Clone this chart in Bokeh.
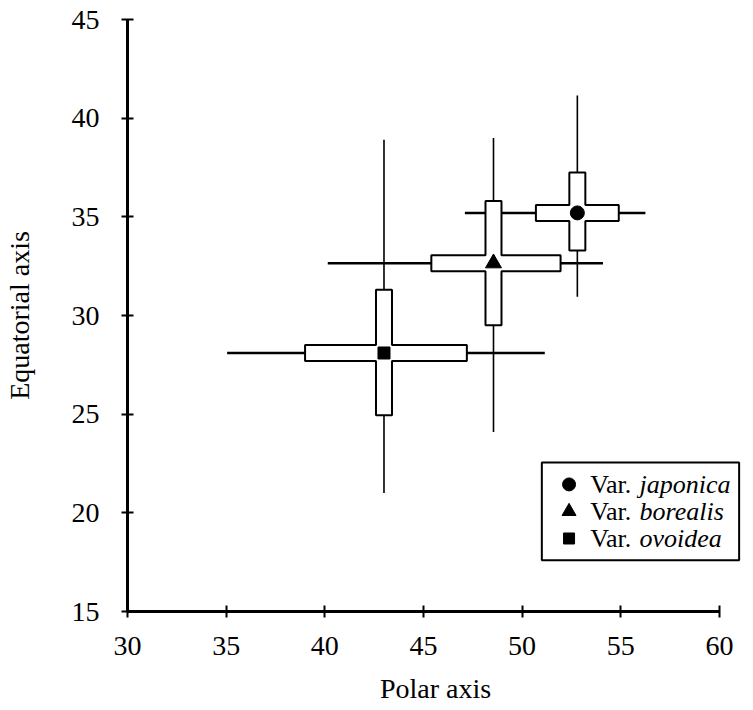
from bokeh.plotting import figure
from bokeh.models import ColumnDataSource, Range1d, FixedTicker
from bokeh.core.properties import value
from bokeh.embed import file_html
from bokeh.resources import INLINE

# ---- data ----
varieties = ["japonica", "borealis", "ovoidea"]
markers = ["circle", "triangle", "square"]
marker_sizes = [14, 16, 12]

polar_mean = [52.8, 48.55, 43.0]
polar_box_lo = [50.7, 45.4, 39.0]
polar_box_hi = [54.9, 51.95, 47.2]
polar_min = [47.1, 40.15, 35.05]
polar_max = [56.25, 54.1, 51.15]

equ_mean = [35.2, 32.65, 28.1]
equ_box_lo = [33.3, 29.5, 24.95]
equ_box_hi = [37.25, 35.8, 31.3]
equ_min = [30.95, 24.1, 21.0]
equ_max = [41.15, 39.0, 38.9]

x_ticks = [30, 35, 40, 45, 50, 55, 60]
y_ticks = [15, 20, 25, 30, 35, 40, 45]

# ---- styling constants ----
PX = 19.73            # pixels per data unit on both axes
HALF = 8.0 / PX       # half thickness of the boxes (8 px)
FRAME_W = 616
FRAME_H = 592
SERIF = "Liberation Serif"

p = figure(frame_width=FRAME_W, frame_height=FRAME_H,
           x_range=Range1d(30, 30 + FRAME_W / PX), y_range=Range1d(15, 45),
           output_backend="svg", toolbar_location=None,
           min_border_left=122, min_border_right=0,
           min_border_top=19, min_border_bottom=83)
p.background_fill_color = "white"
p.border_fill_color = "white"
p.outline_line_color = None
p.xgrid.grid_line_color = None
p.ygrid.grid_line_color = None

for ax, ticks, bounds in ((p.xaxis[0], x_ticks, (30, 60)), (p.yaxis[0], y_ticks, (15, 45))):
    ax.ticker = FixedTicker(ticks=ticks)
    ax.bounds = bounds
    ax.axis_line_width = 3
    ax.axis_line_color = "black"
    ax.major_tick_line_width = 2
    ax.major_tick_line_color = "black"
    ax.major_tick_in = 6
    ax.major_tick_out = 6
    ax.minor_tick_line_color = None
    ax.major_label_text_font = SERIF
    ax.major_label_text_font_size = "28px"
    ax.major_label_text_color = "black"
    ax.axis_label_text_font = SERIF
    ax.axis_label_text_font_size = "28px"
    ax.axis_label_text_font_style = "normal"
    ax.axis_label_text_color = "black"

p.xaxis.axis_label = "Polar axis"
p.yaxis.axis_label = "Equatorial axis"
p.xaxis.major_label_standoff = 19
p.xaxis.axis_label_standoff = 15
p.yaxis.major_label_standoff = 22
p.yaxis.axis_label_standoff = 34

# ---- whiskers (range) ----
src = ColumnDataSource(dict(
    xm=polar_mean, ym=equ_mean, xmin=polar_min, xmax=polar_max,
    ymin=equ_min, ymax=equ_max, marker=markers, size=marker_sizes))
p.segment(x0="xmin", x1="xmax", y0="ym", y1="ym", source=src,
          line_color="black", line_width=2.5)
p.segment(x0="xm", x1="xm", y0="ymin", y1="ymax", source=src,
          line_color="black", line_width=1.6)

# ---- cross-shaped boxes ----
xs, ys = [], []
for cx, cy, x0, x1, y0, y1 in zip(polar_mean, equ_mean, polar_box_lo, polar_box_hi,
                                  equ_box_lo, equ_box_hi):
    xs.append([x0, x0, cx - HALF, cx - HALF, cx + HALF, cx + HALF,
               x1, x1, cx + HALF, cx + HALF, cx - HALF, cx - HALF])
    ys.append([cy - HALF, cy + HALF, cy + HALF, y1, y1, cy + HALF,
               cy + HALF, cy - HALF, cy - HALF, y0, y0, cy - HALF])
p.patches(xs=xs, ys=ys, fill_color="white", line_color="black", line_width=2)

# ---- means ----
p.scatter(x="xm", y="ym", marker="marker", size="size", source=src,
          fill_color="black", line_color="black")

# ---- legend (drawn by hand for the mixed roman / italic labels) ----
leg_left, leg_right, leg_top, leg_bottom = 51.0, 61.0, 22.55, 17.6
row_y = [21.44, 20.07, 18.70]
mark_x = 52.38
var_x = 53.45
name_x = 55.95

p.quad(left=[leg_left], right=[leg_right], top=[leg_top], bottom=[leg_bottom],
       fill_color="white", line_color="black", line_width=2)
leg = ColumnDataSource(dict(
    mx=[mark_x] * 3, vx=[var_x] * 3, nx=[name_x] * 3, y=row_y,
    marker=markers, size=[13, 14, 11], var=["Var."] * 3, name=varieties))
p.scatter(x="mx", y="y", marker="marker", size="size", source=leg,
          fill_color="black", line_color="black")
p.text(x="vx", y="y", text="var", source=leg, text_font=value(SERIF),
       text_font_size="26px", text_baseline="middle", text_align="left",
       text_color="black")
p.text(x="nx", y="y", text="name", source=leg, text_font=value(SERIF),
       text_font_size="26px", text_font_style="italic", text_baseline="middle",
       text_align="left", text_color="black")

open("out.html", "w").write(file_html(p, INLINE))
